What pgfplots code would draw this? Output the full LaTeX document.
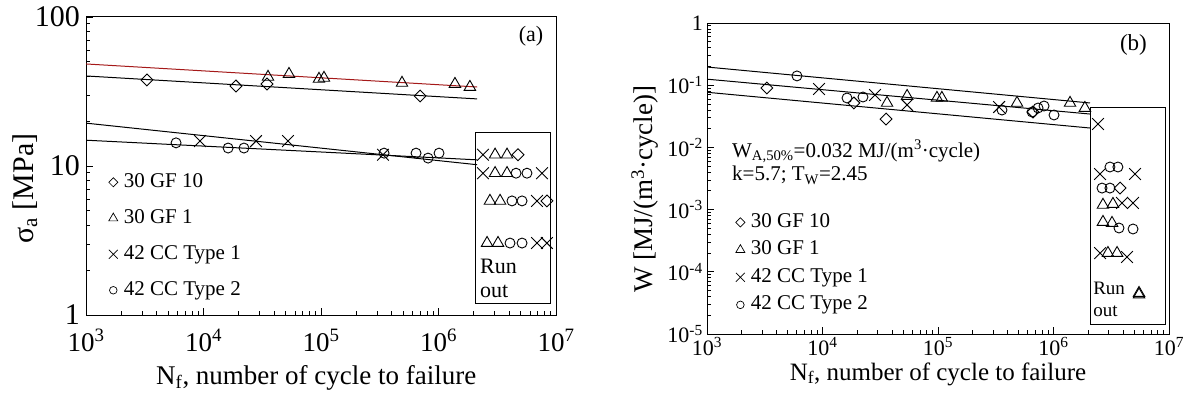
\documentclass[border=0pt]{standalone}
\usepackage{fontspec}
\setmainfont{Liberation Serif}
\usepackage{pgfplots}
\pgfplotsset{compat=1.18}
\definecolor{fitred}{RGB}{165,25,25}
\begin{document}
\begin{tikzpicture}
% ---------------- (a) ----------------
\begin{axis}[
  xmode=log, ymode=log, scale only axis,
  xmin=1e3, xmax=1e7,
  axis line style={line width=1pt},
  xtick pos=bottom, ytick pos=left,
  tick align=inside,
  major tick length=7pt, minor tick length=4pt,
  tick style={black, line width=0.8pt},
  xtick={1e3,1e4,1e5,1e6,1e7},
  xticklabels={10\textsuperscript{3},10\textsuperscript{4},10\textsuperscript{5},10\textsuperscript{6},10\textsuperscript{7}},
  legend cell align=left,
  at={(86pt,82pt)}, anchor=south west,
  width=470pt, height=298pt,
  ymin=1, ymax=100,
  ytick={1,10,100}, yticklabels={1,10,100},
  xticklabel style={anchor=base, inner sep=0pt, text depth=0pt, yshift=-36pt, font=\fontsize{27}{30}\selectfont},
  yticklabel style={anchor=east, inner sep=0pt, xshift=-6pt, font=\fontsize{30}{33}\selectfont},
  xlabel={N\textsubscript{f}, number of cycle to failure},
  xlabel style={at={(axis description cs:0.49,-0.232)}, anchor=base, inner sep=0pt, font=\fontsize{27}{30}\selectfont},
  ylabel={σ\textsubscript{a} [MPa]},
  ylabel style={at={(axis description cs:-0.130,0.424)}, anchor=center, font=\fontsize{30}{33}\selectfont},
  legend style={at={(axis description cs:0.048,0.483)}, anchor=north west, draw=none, fill=none,
    font=\fontsize{21}{25}\selectfont, inner sep=0pt, row sep=14pt, column sep=5pt,
    nodes={inner sep=1pt, text height=15pt, text depth=5pt}},
]
\addplot[fitred, line width=1pt, forget plot] coordinates {(1000,48.4) (2.13e6,33.9)};
\addplot[black, line width=1pt, forget plot] coordinates {(1000,40.2) (2.13e6,28.2)};
\addplot[black, line width=1pt, forget plot] coordinates {(1000,19.4) (2.13e6,10.2)};
\addplot[black, line width=1pt, forget plot] coordinates {(1000,14.9) (2.13e6,11.0)};
% run-out box
\addplot[black, line width=1pt, forget plot] coordinates {(2.05e6,16.9) (8.9e6,16.9) (8.9e6,1.2) (2.05e6,1.2) (2.05e6,16.9)};
% data
\addplot[only marks, mark=square, mark size=4.2pt, mark options={rotate=45, line width=0.9pt, fill=none, draw=black}, forget plot] coordinates {(3300,37.8) (18900,34.4) (34700,35.5) (697000,29.5)
  (4.75e6,11.9) (8.37e6,5.83)};
\addplot[only marks, mark=triangle, mark size=6.6pt, mark options={line width=0.9pt, fill=none, draw=black}, forget plot] coordinates {(35400,39.6) (53400,41.4) (96100,38.4) (106000,39.0) (489000,36.1) (1.38e6,35.5) (1.85e6,33.9)
  (3.03e6,11.9) (3.83e6,11.9) (3.03e6,8.95) (3.83e6,8.95) (2.74e6,5.83) (3.34e6,5.83) (2.59e6,3.04) (3.21e6,3.04)};
\addplot[only marks, mark=x, mark size=8.3pt, mark options={line width=0.9pt, draw=black}, forget plot] coordinates {(9330,14.7) (28000,14.7) (52400,14.7) (337000,11.9)
  (2.39e6,11.9) (2.39e6,8.95) (7.60e6,8.95) (6.89e6,5.83) (6.89e6,3.04) (8.37e6,3.04)};
\addplot[only marks, mark=o, mark size=5pt, mark options={line width=0.9pt, fill=none, draw=black}, forget plot] coordinates {(5840,14.3) (16200,13.2) (22100,13.2) (344000,12.2) (644000,12.2) (815000,11.3) (1.01e6,12.2)
  (4.57e6,8.95) (5.66e6,8.95) (4.22e6,5.83) (5.14e6,5.83) (4.06e6,3.04) (5.14e6,3.04)};
\addlegendimage{only marks, mark=square, mark size=3.2pt, mark options={rotate=45, line width=0.7pt, fill=none, draw=black}}
\addlegendentry{30 GF 10}
\addlegendimage{only marks, mark=triangle, mark size=5.2pt, mark options={line width=0.7pt, fill=none, draw=black}}
\addlegendentry{30 GF 1}
\addlegendimage{only marks, mark=x, mark size=6.3pt, mark options={line width=0.7pt, draw=black}}
\addlegendentry{42 CC Type 1}
\addlegendimage{only marks, mark=o, mark size=3.8pt, mark options={line width=0.7pt, fill=none, draw=black}}
\addlegendentry{42 CC Type 2}
\node[font=\fontsize{22}{26}\selectfont] at (rel axis cs:0.947,0.936) {(a)};
\node[anchor=base west, inner sep=0pt, font=\fontsize{22}{26}\selectfont] at (axis cs:2.25e6,1.91) {Run};
\node[anchor=base west, inner sep=0pt, font=\fontsize{22}{26}\selectfont] at (axis cs:2.25e6,1.32) {out};
\end{axis}
% ---------------- (b) ----------------
\begin{axis}[
  xmode=log, ymode=log, scale only axis,
  xmin=1e3, xmax=1e7,
  axis line style={line width=1pt},
  xtick pos=bottom, ytick pos=left,
  tick align=inside,
  major tick length=7pt, minor tick length=4pt,
  tick style={black, line width=0.8pt},
  xtick={1e3,1e4,1e5,1e6,1e7},
  xticklabels={10\textsuperscript{3},10\textsuperscript{4},10\textsuperscript{5},10\textsuperscript{6},10\textsuperscript{7}},
  legend cell align=left,
  at={(707pt,63pt)}, anchor=south west,
  width=462pt, height=311pt,
  ymin=1e-5, ymax=1,
  ytick={1e-5,1e-4,1e-3,1e-2,1e-1,1},
  yticklabels={10\textsuperscript{-5},10\textsuperscript{-4},10\textsuperscript{-3},10\textsuperscript{-2},10\textsuperscript{-1},1},
  xticklabel style={anchor=base, inner sep=0pt, text depth=0pt, yshift=-21pt, font=\fontsize{22}{26}\selectfont},
  yticklabel style={anchor=east, inner sep=0pt, xshift=-4pt, font=\fontsize{22}{26}\selectfont},
  xlabel={N\textsubscript{f}, number of cycle to failure},
  xlabel style={at={(axis description cs:0.5,-0.148)}, anchor=base, inner sep=0pt, text height=14pt, font=\fontsize{25}{28}\selectfont},
  ylabel={W [MJ/(m\textsuperscript{3}·cycle)]},
  ylabel style={at={(axis description cs:-0.134,0.465)}, anchor=center, font=\fontsize{27}{30}\selectfont},
  legend style={at={(axis description cs:0.062,0.395)}, anchor=north west, draw=none, fill=none,
    font=\fontsize{21}{25}\selectfont, inner sep=0pt, row sep=5.5pt, column sep=5pt,
    nodes={inner sep=1pt, text height=15pt, text depth=5pt}},
]
\addplot[black, line width=1pt, forget plot] coordinates {(1000,0.196) (2.07e6,0.0518)};
\addplot[black, line width=1pt, forget plot] coordinates {(1000,0.125) (2.07e6,0.0344)};
\addplot[black, line width=1pt, forget plot] coordinates {(1000,0.077) (2.07e6,0.0205)};
\addplot[black, line width=1pt, forget plot] coordinates {(2.07e6,0.0446) (9.4e6,0.0446) (9.4e6,1.4e-5) (2.07e6,1.4e-5) (2.07e6,0.0446)};
\addplot[only marks, mark=square, mark size=4.2pt, mark options={rotate=45, line width=0.9pt, fill=none, draw=black}, forget plot] coordinates {(3300,0.0902) (18700,0.0518) (35500,0.0286) (665000,0.0371)
  (3.77e6,2.22e-3)};
\addplot[only marks, mark=triangle, mark size=6.6pt, mark options={line width=0.9pt, fill=none, draw=black}, forget plot] coordinates {(36200,0.0518) (54000,0.0670) (97900,0.0623) (108000,0.0623) (483000,0.0518) (1.39e6,0.0518) (1.87e6,0.0430)
  (2.68e6,1.19e-3) (3.27e6,1.23e-3) (2.68e6,6.32e-4) (3.21e6,6.09e-4) (2.96e6,2.0e-4) (3.55e6,2.0e-4) (5.5e6,4.56e-5) (5.5e6,4.3e-5)};
\addplot[only marks, mark=x, mark size=8.3pt, mark options={line width=0.9pt, draw=black}, forget plot] coordinates {(9330,0.0869) (28500,0.0696) (54000,0.0481) (338000,0.0446) (2.43e6,0.0238)
  (2.53e6,3.74e-3) (5.08e6,3.74e-3) (3.92e6,1.28e-3) (4.88e6,1.28e-3) (2.53e6,2.0e-4) (4.33e6,1.73e-4)};
\addplot[only marks, mark=o, mark size=5pt, mark options={line width=0.9pt, fill=none, draw=black}, forget plot] coordinates {(6010,0.141) (16300,0.0623) (22400,0.0646) (358000,0.0399) (652000,0.0371) (735000,0.0430) (828000,0.0463) (1.01e6,0.0332)
  (3.08e6,4.84e-3) (3.61e6,4.84e-3) (2.63e6,2.22e-3) (3.08e6,2.22e-3) (3.69e6,5.06e-4) (4.88e6,4.88e-4)};
\addlegendimage{only marks, mark=square, mark size=3.2pt, mark options={rotate=45, line width=0.7pt, fill=none, draw=black}}
\addlegendentry{30 GF 10}
\addlegendimage{only marks, mark=triangle, mark size=5.2pt, mark options={line width=0.7pt, fill=none, draw=black}}
\addlegendentry{30 GF 1}
\addlegendimage{only marks, mark=x, mark size=6.3pt, mark options={line width=0.7pt, draw=black}}
\addlegendentry{42 CC Type 1}
\addlegendimage{only marks, mark=o, mark size=3.8pt, mark options={line width=0.7pt, fill=none, draw=black}}
\addlegendentry{42 CC Type 2}
\node[font=\fontsize{23}{27}\selectfont] at (rel axis cs:0.923,0.929) {(b)};
\node[anchor=base west, inner sep=0pt, font=\fontsize{21}{25}\selectfont] at (rel axis cs:0.054,0.569) {W\textsubscript{A,50\%}=0.032 MJ/(m\textsuperscript{3}·cycle)};
\node[anchor=base west, inner sep=0pt, font=\fontsize{21}{25}\selectfont] at (rel axis cs:0.054,0.492) {k=5.7; T\textsubscript{W}=2.45};
\node[anchor=base west, inner sep=0pt, font=\fontsize{19}{23}\selectfont] at (axis cs:2.2e6,4.24e-5) {Run};
\node[anchor=base west, inner sep=0pt, font=\fontsize{19}{23}\selectfont] at (axis cs:2.2e6,1.88e-5) {out};
\end{axis}
\pgfresetboundingbox
\path[use as bounding box] (0pt,0pt) rectangle (1189pt,397pt);
\end{tikzpicture}
\end{document}
